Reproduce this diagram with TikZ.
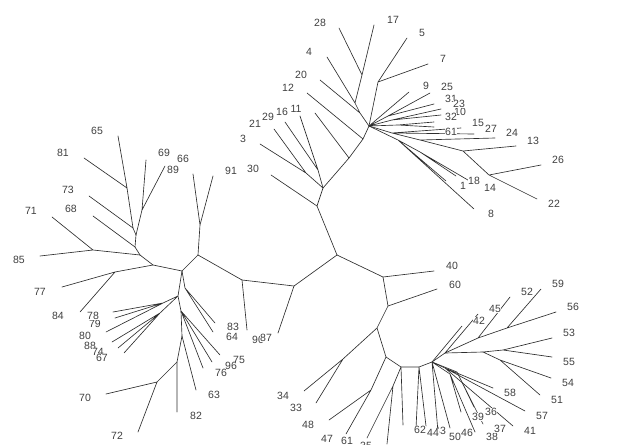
\documentclass[tikz,border=0pt]{standalone}
\usepackage{fontspec}
\newfontfamily\tipfont{Liberation Sans}
\tikzset{
    zweig/.style = {draw=black!82, line width=0.65pt, line cap=round},
    blatt/.style = {font={\tipfont\fontsize{10.5}{12}\selectfont}, text=black!75,
                    fill=white, inner sep=0.3pt}
}
\begin{document}
\begin{tikzpicture}[x=1pt, y=-1pt]
    \useasboundingbox (0,0) rectangle (644,444);
    \clip (0,0) rectangle (644,444);

    % --- Mitte ---
    \coordinate (c0) at (337,255);

    % --- Oberer Ast ---
    \coordinate (t0)  at (317,206);
    \coordinate (t1)  at (323,188);
    \coordinate (t1b) at (349,158);
    \coordinate (t2)  at (363,139);
    \coordinate (t3)  at (369,126);
    \coordinate (n3)  at (306,173);
    \coordinate (n29) at (318,170);
    \coordinate (n20) at (360,113);
    \coordinate (n4)  at (355,103);
    \coordinate (n28) at (362,75);
    \coordinate (n5)  at (378,82);
    \coordinate (n25) at (388,116);
    \coordinate (n10) at (392,120);
    \coordinate (n32) at (398,125);
    \coordinate (t4)  at (392,133);
    \coordinate (t5)  at (420,140);
    \coordinate (t6)  at (463,151);
    \coordinate (t7)  at (489,175);
    \coordinate (t8)  at (398,140);
    \coordinate (n18) at (420,152);

    \coordinate (s30) at (271,175);  \coordinate (s3)  at (260,144);
    \coordinate (s21) at (274,129);  \coordinate (s29) at (285,122);
    \coordinate (s16) at (300,116);  \coordinate (s11) at (315,113);
    \coordinate (s12) at (307,93);   \coordinate (s20) at (320,80);
    \coordinate (s4)  at (327,57);   \coordinate (s28) at (339,28);
    \coordinate (s17) at (374,25);   \coordinate (s5)  at (407,38);
    \coordinate (s7)  at (428,64);   \coordinate (s9)  at (409,92);
    \coordinate (s25) at (430,93);   \coordinate (s31) at (434,104);
    \coordinate (s23) at (441,109);  \coordinate (s10) at (441,115);
    \coordinate (s32) at (434,122);  \coordinate (s61) at (434,127);
    \coordinate (s15) at (461,128);  \coordinate (s27) at (474,134);
    \coordinate (s24) at (495,138);  \coordinate (s13) at (516,146);
    \coordinate (s26) at (541,165);  \coordinate (s22) at (537,199);
    \coordinate (s8)  at (474,209);  \coordinate (s1)  at (446,181);
    \coordinate (s18) at (456,176);  \coordinate (s14) at (473,183);

    \draw[zweig] (c0) -- (t0) -- (t1) -- (t1b) -- (t2) -- (t3);
    \draw[zweig] (t0) -- (s30);
    \draw[zweig] (t1) -- (n3)  (n3) -- (s3)  (n3) -- (s21);
    \draw[zweig] (t1) -- (n29)  (n29) -- (s29)  (n29) -- (s16);
    \draw[zweig] (t1b) -- (s11)  (t2) -- (s12);
    \draw[zweig] (t3) -- (n20) -- (n4) -- (n28) -- (s17)  (n20) -- (s20)  (n4) -- (s4)  (n28) -- (s28);
    \draw[zweig] (t3) -- (n5)  (n5) -- (s5)  (n5) -- (s7);
    \draw[zweig] (t3) -- (s9)  (t3) -- (n25)  (n25) -- (s25)  (n25) -- (s31)
                 (t3) -- (n10)  (n10) -- (s23)  (n10) -- (s10)
                 (t3) -- (n32)  (n32) -- (s32)  (n32) -- (s61);
    \draw[zweig] (t3) -- (t4) -- (t5) -- (t6) -- (t7)  (t4) -- (s15)  (t4) -- (s27)
                 (t5) -- (s24)  (t6) -- (s13)  (t7) -- (s26)  (t7) -- (s22);
    \draw[zweig] (t3) -- (t8)  (t8) -- (s8)  (t8) -- (s1)  (t8) -- (n18)  (n18) -- (s18)  (n18) -- (s14);

    % --- Linker Ast ---
    \coordinate (l0)  at (294,286);
    \coordinate (l1)  at (242,280);
    \coordinate (l2)  at (198,255);
    \coordinate (n66) at (200,225);
    \coordinate (l3)  at (182,271);
    \coordinate (l4)  at (153,265);
    \coordinate (l7)  at (115,272);
    \coordinate (l6)  at (140,255);
    \coordinate (n71) at (93,250);
    \coordinate (l8)  at (135,247);
    \coordinate (l9)  at (136,235);
    \coordinate (j73) at (133,228);
    \coordinate (n65) at (127,188);
    \coordinate (n69) at (142,210);
    \coordinate (p83) at (185,288);
    \coordinate (p1)  at (178,296);
    \coordinate (f1)  at (163,303);
    \coordinate (f2)  at (160,313);
    \coordinate (p2)  at (181,311);
    \coordinate (p3)  at (182,336);
    \coordinate (n82) at (177,362);
    \coordinate (n70) at (157,382);

    \coordinate (s87) at (278,333);  \coordinate (s90) at (247,330);
    \coordinate (s66) at (193,174);  \coordinate (s91) at (213,176);
    \coordinate (s77) at (62,287);   \coordinate (s84) at (80,312);
    \coordinate (s85) at (40,256);   \coordinate (s71) at (52,217);
    \coordinate (s68) at (93,216);   \coordinate (s73) at (89,196);
    \coordinate (s65) at (118,136);  \coordinate (s81) at (84,158);
    \coordinate (s69) at (146,160);  \coordinate (s89) at (165,166);
    \coordinate (s83) at (215,323);  \coordinate (s64) at (213,332);
    \coordinate (s78) at (113,312);  \coordinate (s79) at (115,318);
    \coordinate (s80) at (106,332);  \coordinate (s88) at (112,342);
    \coordinate (s74) at (118,348);  \coordinate (s67) at (124,353);
    \coordinate (s75) at (220,355);  \coordinate (s96) at (212,362);
    \coordinate (s76) at (203,368);  \coordinate (s63) at (196,390);
    \coordinate (s82) at (177,412);  \coordinate (s70) at (106,394);
    \coordinate (s72) at (138,432);

    \draw[zweig] (c0) -- (l0) -- (l1) -- (l2) -- (l3) -- (l4) -- (l6) -- (l8) -- (l9) -- (j73) -- (n65);
    \draw[zweig] (l0) -- (s87)  (l1) -- (s90);
    \draw[zweig] (l2) -- (n66)  (n66) -- (s66)  (n66) -- (s91);
    \draw[zweig] (l4) -- (l7)  (l7) -- (s77)  (l7) -- (s84);
    \draw[zweig] (l6) -- (n71)  (n71) -- (s85)  (n71) -- (s71);
    \draw[zweig] (l8) -- (s68)  (j73) -- (s73)  (n65) -- (s65)  (n65) -- (s81);
    \draw[zweig] (l9) -- (n69)  (n69) -- (s69)  (n69) -- (s89);
    \draw[zweig] (l3) -- (p83)  (p83) -- (s83)  (p83) -- (s64);
    \draw[zweig] (l3) -- (p1) -- (p2) -- (p3) -- (n82) -- (n70);
    \draw[zweig] (p1) -- (f1)  (f1) -- (s78)  (f1) -- (s79)  (f1) -- (s80)
                 (p1) -- (f2)  (f2) -- (s88)  (f2) -- (s74)  (f2) -- (s67);
    \draw[zweig] (p2) -- (s75)  (p2) -- (s96)  (p2) -- (s76)  (p3) -- (s63)
                 (n82) -- (s82)  (n70) -- (s70)  (n70) -- (s72);

    % --- Unterer Ast ---
    \coordinate (r0)  at (383,277);
    \coordinate (r1)  at (388,306);
    \coordinate (r2)  at (377,328);
    \coordinate (b1)  at (343,359);
    \coordinate (r3)  at (386,357);
    \coordinate (b2)  at (371,390);
    \coordinate (r4)  at (401,367);
    \coordinate (b3)  at (393,386);
    \coordinate (r5)  at (419,367);
    \coordinate (r6)  at (432,362);
    \coordinate (f6)  at (445,368);
    \coordinate (f4)  at (450,374);
    \coordinate (f5)  at (457,372);
    \coordinate (r7)  at (445,353);
    \coordinate (r8)  at (483,352);
    \coordinate (n53) at (503,350);
    \coordinate (n54) at (500,360);
    \coordinate (r9)  at (478,338);
    \coordinate (n59) at (507,328);

    \coordinate (s40) at (434,271);  \coordinate (s60) at (437,289);
    \coordinate (s34) at (304,391);  \coordinate (s33) at (316,403);
    \coordinate (s48) at (329,420);  \coordinate (s47) at (346,434);
    \coordinate (s62) at (403,425);  \coordinate (s61u) at (367,438);
    \coordinate (s35) at (387,444);  \coordinate (s44) at (416,428);
    \coordinate (s43) at (426,426);  \coordinate (s50) at (438,432);
    \coordinate (s46) at (450,428);  \coordinate (s42) at (462,326);
    \coordinate (s58) at (493,388);  \coordinate (s57) at (525,411);
    \coordinate (s41) at (513,426);  \coordinate (s45) at (478,314);
    \coordinate (s39) at (461,412);  \coordinate (s38) at (475,432);
    \coordinate (s36) at (474,407);  \coordinate (s37) at (483,424);
    \coordinate (s53) at (552,338);  \coordinate (s55) at (552,357);
    \coordinate (s54) at (551,378);  \coordinate (s51) at (540,395);
    \coordinate (s59) at (541,289);  \coordinate (s56) at (556,312);
    \coordinate (s52) at (510,297);

    \draw[zweig] (c0) -- (r0) -- (r1) -- (r2) -- (r3) -- (r4) -- (r5) -- (r6) -- (r7) -- (r8);
    \draw[zweig] (r0) -- (s40)  (r1) -- (s60);
    \draw[zweig] (r2) -- (b1)  (b1) -- (s34)  (b1) -- (s33);
    \draw[zweig] (r3) -- (b2)  (b2) -- (s48)  (b2) -- (s47);
    \draw[zweig] (r4) -- (s62)  (r4) -- (b3)  (b3) -- (s61u)  (b3) -- (s35);
    \draw[zweig] (r5) -- (s44)  (r5) -- (s43);
    \draw[zweig] (r6) -- (s50)  (r6) -- (s46)  (r6) -- (s42);
    \draw[zweig] (r6) -- (f6)  (f6) -- (s58)  (f6) -- (s57)  (f6) -- (s41);
    \draw[zweig] (r6) -- (f4)  (f4) -- (s39)  (f4) -- (s38)  (r6) -- (f5)  (f5) -- (s36)  (f5) -- (s37);
    \draw[zweig] (r7) -- (s45)  (r7) -- (r9)  (r9) -- (s52)  (r9) -- (n59)  (n59) -- (s59)  (n59) -- (s56);
    \draw[zweig] (r8) -- (n53)  (n53) -- (s53)  (n53) -- (s55)  (r8) -- (n54)  (n54) -- (s54)  (n54) -- (s51);

    % --- Beschriftung ---
    \node[blatt] (b30) at (253,169) {30};
    \node[blatt] (b3)  at (243,139) {3};
    \node[blatt] (b21) at (255,124) {21};
    \node[blatt] (b29) at (268,117) {29};
    \node[blatt] (b16) at (282,112) {16};
    \node[blatt] (b11) at (296,109) {11};
    \node[blatt] (b12) at (288,88)  {12};
    \node[blatt] (b20) at (301,75)  {20};
    \node[blatt] (b4)  at (309,52)  {4};
    \node[blatt] (b28) at (320,23)  {28};
    \node[blatt] (b17) at (393,20)  {17};
    \node[blatt] (b5)  at (422,33)  {5};
    \node[blatt] (b7)  at (443,59)  {7};
    \node[blatt] (b9)  at (426,86)  {9};
    \node[blatt] (b25) at (447,87)  {25};
    \node[blatt] (b31) at (451,99)  {31};
    \node[blatt] (b10) at (460,112) {10};
    \node[blatt] (b23) at (459,104) {23};
    \node[blatt] (b32) at (451,117) {32};
    \node[blatt] (b61) at (451,132) {61};
    \node[blatt] (b15) at (478,123) {15};
    \node[blatt] (b27) at (491,129) {27};
    \node[blatt] (b24) at (512,133) {24};
    \node[blatt] (b13) at (533,141) {13};
    \node[blatt] (b26) at (558,160) {26};
    \node[blatt] (b22) at (554,204) {22};
    \node[blatt] (b8)  at (491,214) {8};
    \node[blatt] (b1)  at (463,186) {1};
    \node[blatt] (b18) at (474,181) {18};
    \node[blatt] (b14) at (490,188) {14};

    \node[blatt] (b65) at (97,131)  {65};
    \node[blatt] (b81) at (63,153)  {81};
    \node[blatt] (b69) at (164,153) {69};
    \node[blatt] (b89) at (173,170) {89};
    \node[blatt] (b66) at (183,159) {66};
    \node[blatt] (b91) at (231,171) {91};
    \node[blatt] (b73) at (68,190)  {73};
    \node[blatt] (b68) at (71,209)  {68};
    \node[blatt] (b71) at (31,211)  {71};
    \node[blatt] (b85) at (19,260)  {85};
    \node[blatt] (b77) at (40,292)  {77};
    \node[blatt] (b84) at (58,316)  {84};
    \node[blatt] (b79) at (95,324)  {79};
    \node[blatt] (b78) at (93,316)  {78};
    \node[blatt] (b80) at (85,336)  {80};
    \node[blatt] (b88) at (90,346)  {88};
    \node[blatt] (b74) at (98,352)  {74};
    \node[blatt] (b67) at (102,358) {67};
    \node[blatt] (b83) at (233,327) {83};
    \node[blatt] (b64) at (232,337) {64};
    \node[blatt] (b90) at (258,340) {90};
    \node[blatt] (b87) at (266,338) {87};
    \node[blatt] (b75) at (239,360) {75};
    \node[blatt] (b96) at (231,366) {96};
    \node[blatt] (b76) at (221,373) {76};
    \node[blatt] (b63) at (214,395) {63};
    \node[blatt] (b82) at (196,416) {82};
    \node[blatt] (b70) at (85,398)  {70};
    \node[blatt] (b72) at (117,436) {72};

    \node[blatt] (b40) at (452,266) {40};
    \node[blatt] (b60) at (455,285) {60};
    \node[blatt] (b34) at (283,396) {34};
    \node[blatt] (b33) at (296,408) {33};
    \node[blatt] (b48) at (308,425) {48};
    \node[blatt] (b47) at (327,439) {47};
    \node[blatt] (b61u) at (347,441) {61};
    \node[blatt] (b35) at (366,446) {35};
    \node[blatt] (b62) at (420,430) {62};
    \node[blatt] (b43) at (440,431) {43};
    \node[blatt] (b44) at (433,433) {44};
    \node[blatt] (b50) at (455,437) {50};
    \node[blatt] (b46) at (467,433) {46};
    \node[blatt] (b39) at (478,417) {39};
    \node[blatt] (b36) at (491,412) {36};
    \node[blatt] (b38) at (492,437) {38};
    \node[blatt] (b37) at (500,429) {37};
    \node[blatt] (b41) at (530,431) {41};
    \node[blatt] (b57) at (542,416) {57};
    \node[blatt] (b58) at (510,393) {58};
    \node[blatt] (b51) at (557,400) {51};
    \node[blatt] (b54) at (568,383) {54};
    \node[blatt] (b55) at (569,362) {55};
    \node[blatt] (b53) at (569,333) {53};
    \node[blatt] (b56) at (573,307) {56};
    \node[blatt] (b59) at (558,284) {59};
    \node[blatt] (b52) at (527,292) {52};
    \node[blatt] (b45) at (495,309) {45};
    \node[blatt] (b42) at (479,321) {42};
\end{tikzpicture}
\end{document}
